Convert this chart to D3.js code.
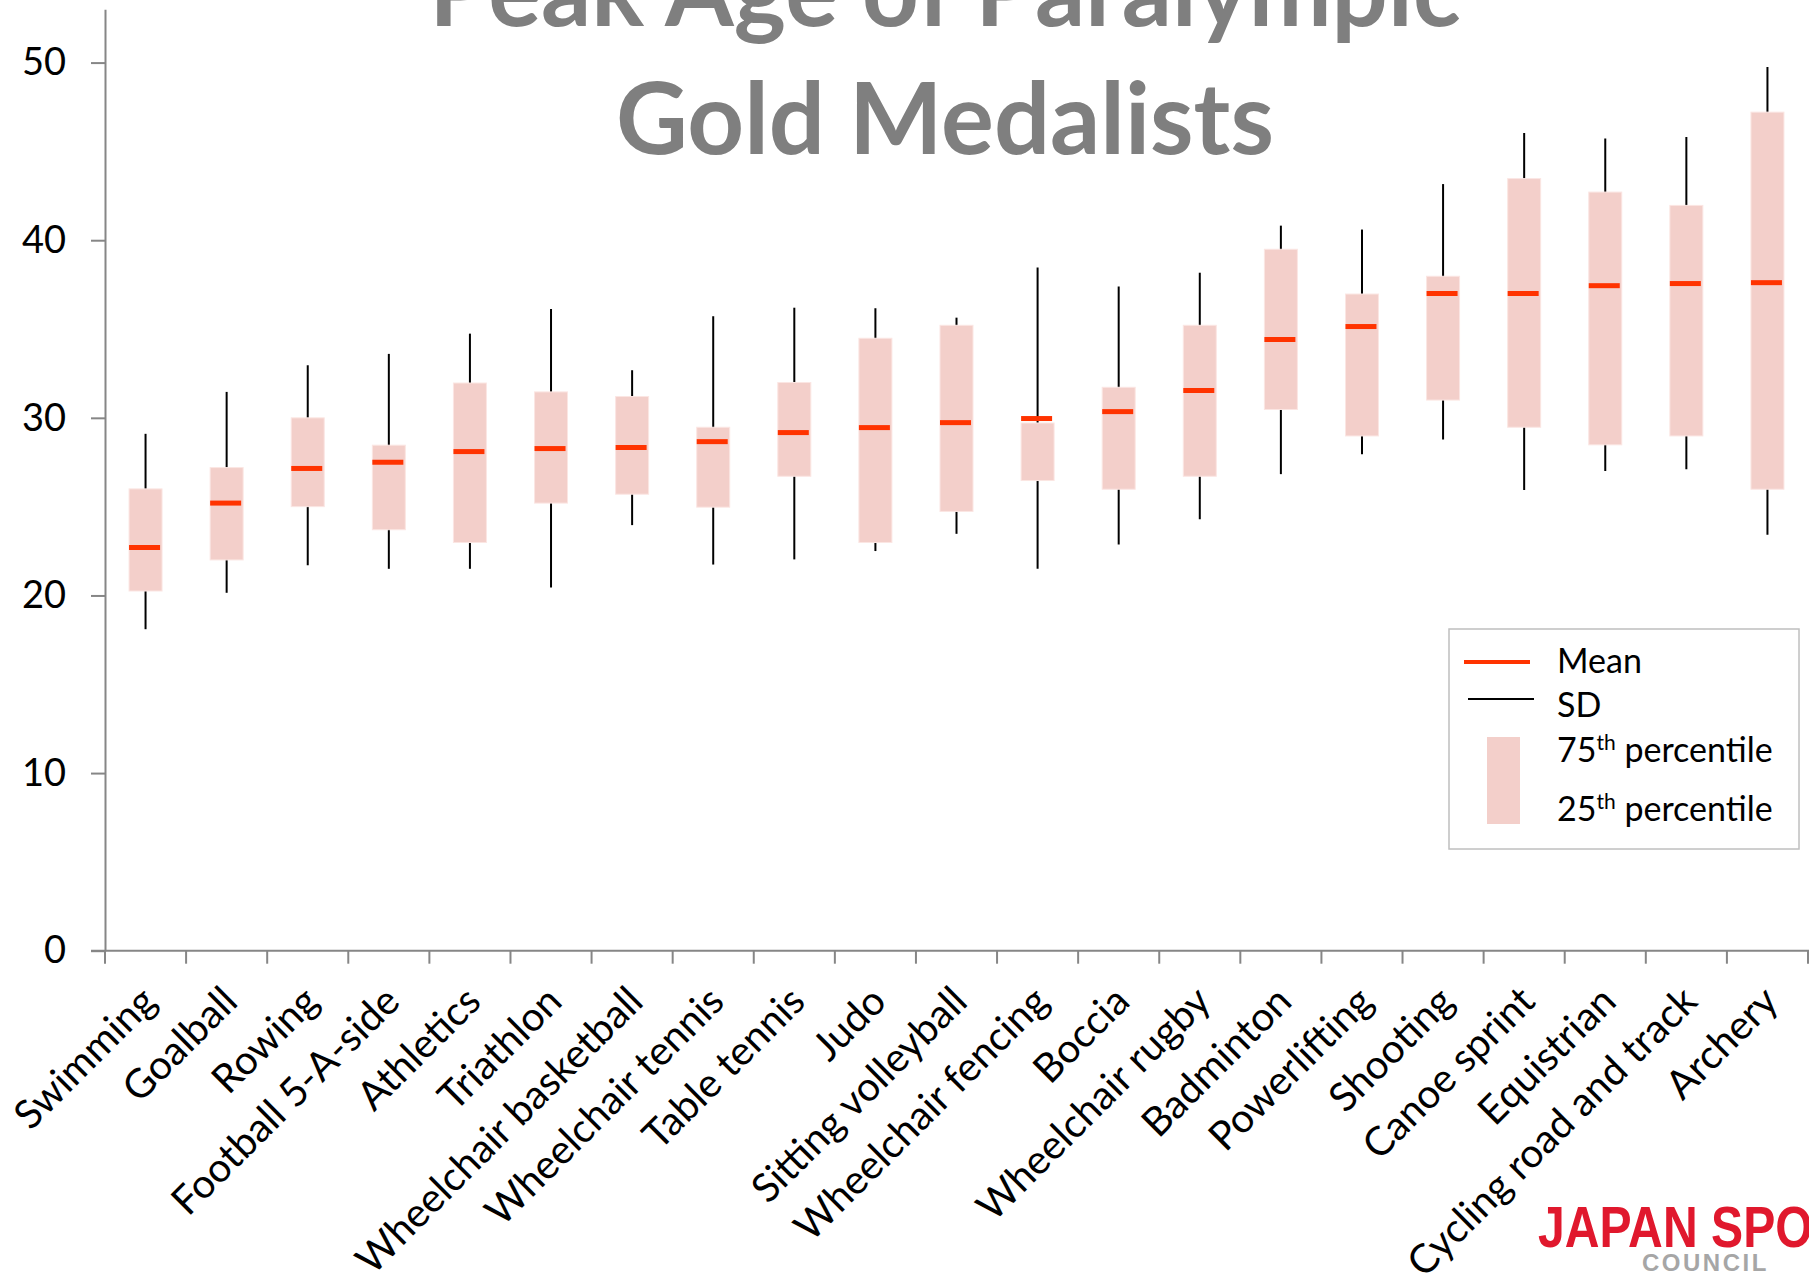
<!DOCTYPE html>
<html>
<head>
<meta charset="utf-8">
<script src="https://cdn.jsdelivr.net/npm/d3@7"></script>
<style>
  body { margin: 0; background: #fff; }
  text { font-family: Lato, "Open Sans", sans-serif; }
</style>
</head>
<body>
<div id="chart"></div>
<script>
// Peak age of Paralympic gold medalists
var sports = ["Swimming", "Goalball", "Rowing", "Football 5-A-side", "Athletics", "Triathlon",
  "Wheelchair basketball", "Wheelchair tennis", "Table tennis", "Judo", "Sitting volleyball",
  "Wheelchair fencing", "Boccia", "Wheelchair rugby", "Badminton", "Powerlifting", "Shooting",
  "Canoe sprint", "Equistrian", "Cycling road and track", "Archery"];
var mean   = [22.7, 25.2, 27.15, 27.5, 28.1, 28.27, 28.33, 28.66, 29.17, 29.45, 29.73, 29.96, 30.35, 31.54, 34.41, 35.14, 37.0, 37.0, 37.44, 37.56, 37.61];
var q75    = [26.0, 27.2, 30.0, 28.46, 31.96, 31.46, 31.2, 29.47, 31.99, 34.48, 35.21, 29.71, 31.72, 35.21, 39.49, 36.97, 37.97, 43.47, 42.71, 41.96, 47.21];
var q25    = [20.25, 22.0, 25.0, 23.7, 22.98, 25.2, 25.7, 24.97, 26.71, 22.98, 24.73, 26.47, 25.98, 26.71, 30.47, 28.98, 31.0, 29.47, 28.48, 28.98, 25.98];
var sdHigh = [29.1, 31.46, 32.96, 33.6, 34.74, 36.13, 32.68, 35.72, 36.2, 36.17, 35.64, 38.46, 37.4, 38.17, 40.82, 40.6, 43.16, 46.03, 45.72, 45.81, 49.75];
var sdLow  = [18.1, 20.15, 21.7, 21.5, 21.5, 20.45, 23.96, 21.74, 22.03, 22.5, 23.47, 21.5, 22.87, 24.29, 26.83, 27.95, 28.78, 25.93, 27.0, 27.1, 23.42];
var yTicks = [0, 10, 20, 30, 40, 50];

var data = sports.map(function(s, i) {
  return {sport: s, mean: mean[i], q75: q75[i], q25: q25[i], hi: sdHigh[i], lo: sdLow[i]};
});

var W = 1809, H = 1275;
var plotLeft = 105, plotRight = 1808, plotTop = 9.3, plotBottom = 950.7;

var svg = d3.select("#chart").append("svg")
  .attr("width", W).attr("height", H);

var x = d3.scaleBand().domain(sports).range([plotLeft, plotRight]);
var y = d3.scaleLinear().domain([0, 53]).range([plotBottom, plotTop]);

var axisColor = "#868686";

// title
var title = svg.append("g").attr("fill", "#7f7f7f")
  .style("font-weight", "bold").style("font-size", "99px")
  .attr("text-anchor", "middle");
title.append("text").attr("x", 945).attr("y", 26).text("Peak Age of Paralympic");
title.append("text").attr("x", 945).attr("y", 154).text("Gold Medalists");

// y axis
var yAxis = svg.append("g")
  .attr("transform", "translate(" + plotLeft + ",0)")
  .call(d3.axisLeft(y).tickValues(yTicks).tickSize(14).tickSizeOuter(0));
yAxis.select(".domain").attr("stroke", axisColor).attr("stroke-width", 2);
yAxis.selectAll(".tick line").attr("stroke", axisColor).attr("stroke-width", 2);
yAxis.selectAll(".tick text")
  .attr("x", -39)
  .style("font-size", "38px").style("font-family", "Lato, sans-serif")
  .attr("fill", "#000");

// x axis line + boundary ticks
svg.append("line")
  .attr("x1", plotLeft - 14).attr("x2", W)
  .attr("y1", y(0)).attr("y2", y(0))
  .attr("stroke", axisColor).attr("stroke-width", 2);
svg.selectAll("line.xtick")
  .data(sports.concat(["_end"]))
  .enter().append("line")
  .attr("class", "xtick")
  .attr("x1", (d, i) => plotLeft + i * x.step())
  .attr("x2", (d, i) => plotLeft + i * x.step())
  .attr("y1", y(0)).attr("y2", y(0) + 13)
  .attr("stroke", axisColor).attr("stroke-width", 2);

// category labels
svg.selectAll("text.cat")
  .data(sports)
  .enter().append("text")
  .attr("class", "cat")
  .attr("text-anchor", "end")
  .attr("transform", d => "translate(" + (x(d) + x.bandwidth() / 2 + 13) + "," + (y(0) + 53) + ") rotate(-45)")
  .style("font-size", "40px")
  .text(d => d);

var bw = 33;

// SD whiskers
svg.selectAll("line.sd")
  .data(data)
  .enter().append("line")
  .attr("class", "sd")
  .attr("x1", d => x(d.sport) + x.bandwidth() / 2)
  .attr("x2", d => x(d.sport) + x.bandwidth() / 2)
  .attr("y1", d => y(d.hi))
  .attr("y2", d => y(d.lo))
  .attr("stroke", "#000").attr("stroke-width", 2);

// 25th-75th percentile boxes
svg.selectAll("rect.box")
  .data(data)
  .enter().append("rect")
  .attr("class", "box")
  .attr("x", d => x(d.sport) + x.bandwidth() / 2 - bw / 2)
  .attr("width", bw)
  .attr("y", d => y(d.q75))
  .attr("height", d => y(d.q25) - y(d.q75))
  .attr("fill", "#f3cfca")
  .attr("stroke", "#fbe6e3").attr("stroke-width", 1);

// means
svg.selectAll("line.mean")
  .data(data)
  .enter().append("line")
  .attr("class", "mean")
  .attr("x1", d => x(d.sport) + x.bandwidth() / 2 - bw / 2)
  .attr("x2", d => x(d.sport) + x.bandwidth() / 2 + bw / 2 - 2)
  .attr("y1", d => y(d.mean))
  .attr("y2", d => y(d.mean))
  .attr("stroke", "#ff3300").attr("stroke-width", 5);

// legend
var lg = svg.append("g");
lg.append("rect")
  .attr("x", 1449).attr("y", 629).attr("width", 350).attr("height", 220)
  .attr("fill", "#fff").attr("stroke", "#bfbfbf").attr("stroke-width", 1.5);
lg.append("line").attr("x1", 1464).attr("x2", 1530).attr("y1", 662).attr("y2", 662)
  .attr("stroke", "#ff3300").attr("stroke-width", 4);
lg.append("line").attr("x1", 1468).attr("x2", 1534).attr("y1", 699).attr("y2", 699)
  .attr("stroke", "#000").attr("stroke-width", 2);
lg.append("rect").attr("x", 1487).attr("y", 737).attr("width", 33).attr("height", 87)
  .attr("fill", "#f3cfca");
var lt = lg.append("g").style("font-size", "34px").attr("fill", "#000");
lt.append("text").attr("x", 1557).attr("y", 673).text("Mean");
lt.append("text").attr("x", 1557).attr("y", 717).text("SD");
[["75", 762], ["25", 821]].forEach(function(p) {
  var t = lt.append("text").attr("x", 1557).attr("y", p[1]);
  t.append("tspan").text(p[0]);
  t.append("tspan").attr("dy", -12).style("font-size", "21px").text("th");
  t.append("tspan").attr("dy", 12).text(" percentile");
});

// logo
svg.append("text")
  .attr("transform", "translate(1538,1247) scale(0.86,1.02)")
  .attr("fill", "#e0182d").style("font-family", "'Liberation Sans', sans-serif")
  .style("font-weight", "bold").style("font-size", "56px")
  .text("JAPAN SPORT");
svg.append("text")
  .attr("x", 1642).attr("y", 1271)
  .attr("fill", "#a6a6a6").style("font-family", "'Liberation Sans', sans-serif")
  .style("font-weight", "bold").style("font-size", "24px").style("letter-spacing", "2.5px")
  .text("COUNCIL");
</script>
</body>
</html>
